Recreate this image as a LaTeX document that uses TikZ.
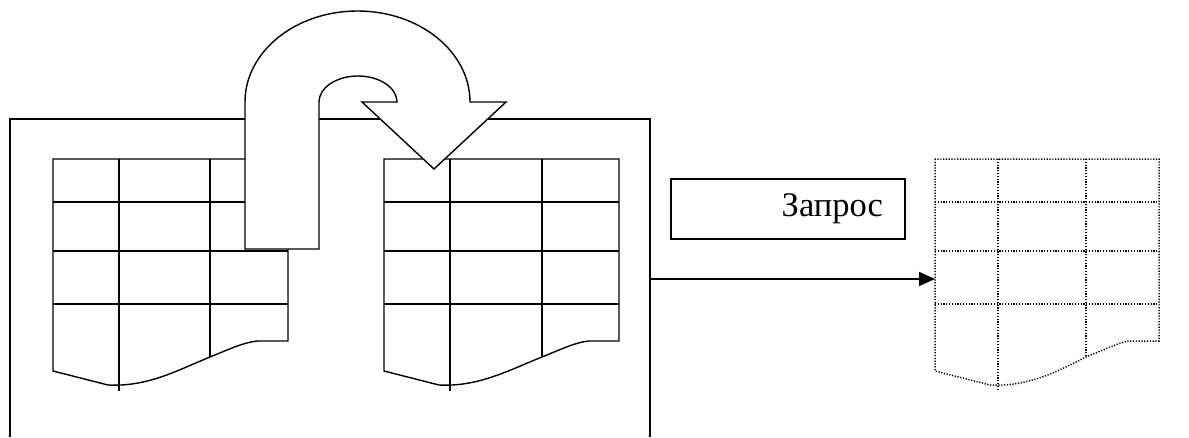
\documentclass[tikz,border=0pt]{standalone}
\usepackage{fontspec}
\setmainfont{Liberation Serif}
\usetikzlibrary{arrows.meta}
\newcommand{\doctable}[5]{%
  \draw[#5] (#1,159) -- (#1,371) -- (#1+55,385)
    .. controls (#1+95,387) and (#1+125,370) .. (#3,357)
    .. controls (#3+22,348) and (#3+35,342) .. (#4-30,341)
    -- (#4,341) -- (#4,159) -- cycle;
  \foreach \yy in {202,251,304} \draw[#5] (#1,\yy) -- (#4,\yy);
  \draw[#5] (#2,159) -- (#2,391);
  \draw[#5] (#3,159) -- (#3,357);
}
\tikzset{
  solidline/.style={line width=1.4pt, line join=miter},
  dotline/.style={line width=1.5pt, dash pattern=on 1.2pt off 1.6pt},
  bigarrow/.style={line width=1.4pt, fill=white, line join=miter},
  querybox/.style={draw, line width=1.4pt, minimum width=234pt, minimum height=60pt,
    text width=190pt, inner xsep=22pt, align=right, font=\fontsize{34.5}{40}\selectfont},
  connector/.style={line width=1.7pt, -{Triangle[length=16pt,width=14pt]}}
}
\begin{document}
\begin{tikzpicture}[x=1pt,y=-1pt]
\useasboundingbox (0,0) rectangle (1189,437);
% frame
\draw[solidline] (10,437) -- (10,119) -- (650,119) -- (650,437);
\coordinate (frameR) at (650,279);
% tables
\doctable{53}{119}{210}{288}{solidline}
\doctable{384}{450}{542}{619}{solidline}
\doctable{935}{998}{1086}{1159}{dotline}
\coordinate (dotL) at (935,279);
% curved arrow
\draw[bigarrow] (245,249) -- (245,102)
  arc[start angle=180, end angle=0, x radius=112.5pt, y radius=91pt]
  -- (506,102) -- (434,169) -- (362,102) -- (397,102)
  arc[start angle=0, end angle=180, x radius=39pt, y radius=26pt]
  -- (319,249) -- cycle;
% query box
\node[querybox] (q) at (788,209) {Запрос};
% connector
\draw[connector] (frameR) -- (dotL);
\end{tikzpicture}
\end{document}
